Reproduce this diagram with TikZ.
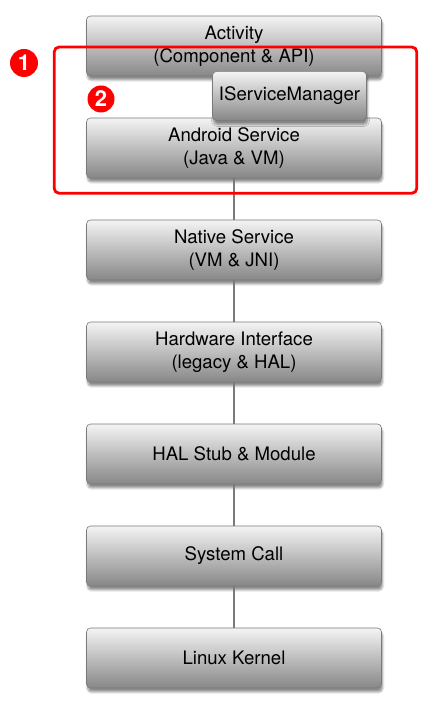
\documentclass[tikz,border=0pt]{standalone}
\usepackage{fontspec}
\setmainfont{TeX Gyre Heros}
\usepackage{xcolor}
\usetikzlibrary{positioning,calc,shadows.blur}

\definecolor{boxtop}{HTML}{F4F4F4}
\definecolor{boxbottom}{HTML}{878787}
\definecolor{boxline}{HTML}{7A7A7A}
\definecolor{markred}{HTML}{FF0000}

\begin{document}
\begin{tikzpicture}[
    x=1pt, y=1pt,
    node distance=41.4pt,
    layer/.style={rectangle, draw=boxline, line width=0.6pt, rounded corners=4pt,
        top color=boxtop, bottom color=boxbottom, minimum width=295pt, minimum height=60pt,
        align=center, font=\fontsize{18.6}{23}\selectfont,
        blur shadow={shadow xshift=1pt, shadow yshift=-4pt, shadow blur steps=8, shadow opacity=45}},
    smallbox/.style={layer, minimum width=154pt, minimum height=49pt},
    link/.style={draw=boxline, line width=1.3pt},
    badge/.style={circle, fill=markred, text=white, minimum size=28pt, inner sep=0pt,
        font=\fontsize{22}{22}\selectfont\bfseries},
    frame/.style={draw=markred, line width=2.8pt, rounded corners=5pt}
]
    \useasboundingbox (0,0) rectangle (436,712);

    % Layers
    \node[layer] (activity) at (234,666) {Activity\\(Component \& API)};
    \node[layer, below=of activity] (android) {Android Service\\(Java \& VM)};
    \node[layer, below=of android] (native) {Native Service\\(VM \& JNI)};
    \node[layer, below=of native] (hwif) {Hardware Interface\\(legacy \& HAL)};
    \node[layer, below=of hwif] (halstub) {HAL Stub \& Module};
    \node[layer, below=of halstub] (syscall) {System Call};
    \node[layer, below=of syscall] (kernel) {Linux Kernel};
    \node[smallbox, above left=-3pt and 15pt of android.north east] (ismgr) {IServiceManager};

    % Links
    \draw[link] (android) -- (native);
    \draw[link] (native) -- (hwif);
    \draw[link] (hwif) -- (halstub);
    \draw[link] (halstub) -- (syscall);
    \draw[link] (syscall) -- (kernel);

    % Marks
    \draw[frame] ($(android.south west)+(-32,-15)$) rectangle ($(activity.east)+(35,-1)$);
    \node[badge] (one) at (24,649) {1};
    \node[badge, minimum size=27pt] (two) at (101,613) {2};
\end{tikzpicture}
\end{document}
